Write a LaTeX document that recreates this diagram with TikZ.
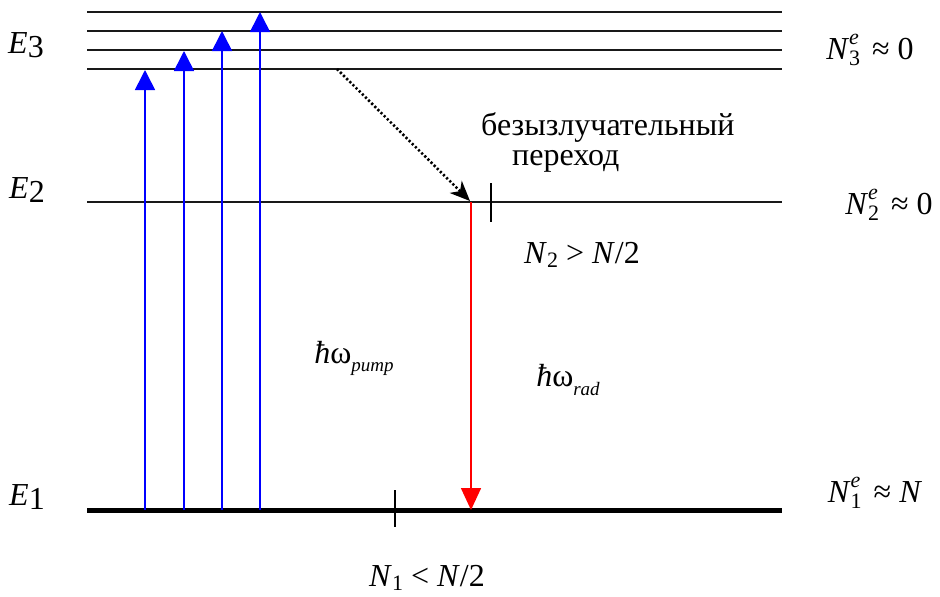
\documentclass[tikz,border=0pt]{standalone}
\usepackage{fontspec}
\setmainfont{Liberation Serif}
\usetikzlibrary{arrows.meta}
\newcommand{\smallfs}{\fontsize{22}{24}\selectfont}
\newcommand{\Nsub}[1]{\textit{N}\raisebox{-0.3ex}{\smallfs #1}}
\newcommand{\Nse}[1]{\textit{N}\makebox[0.42em][l]{\rlap{\raisebox{-0.4ex}{\smallfs #1}}\raisebox{1.0ex}{\smallfs\textit{e}}}}
\begin{document}
\begin{tikzpicture}[x=1pt,y=-1pt,
  lvl/.style={line width=1.5pt,draw=black!90},
  txt/.style={font=\fontsize{32}{36}\selectfont, inner sep=0pt},
  pump/.style={blue,line width=1.6pt,-{Triangle[width=20pt,length=20pt]}},
  rad/.style={red,line width=1.6pt,-{Triangle[width=20pt,length=22pt]}},
  tick/.style={line width=1.5pt}]
\useasboundingbox (0,0) rectangle (940,597);
% levels
\coordinate (a1) at (87,12);  \coordinate (b1) at (782,12);
\coordinate (a2) at (87,31);  \coordinate (b2) at (782,31);
\coordinate (a3) at (87,50);  \coordinate (b3) at (782,50);
\coordinate (a4) at (87,69);  \coordinate (b4) at (782,69);
\coordinate (e2l) at (87,202); \coordinate (e2r) at (782,202);
\coordinate (e1l) at (87,510); \coordinate (e1r) at (782,510);
\draw[lvl] (a1) -- (b1);
\draw[lvl] (a2) -- (b2);
\draw[lvl] (a3) -- (b3);
\draw[lvl] (a4) -- (b4);
\draw[lvl,line width=1.3pt] (e2l) -- (e2r);
\draw[line width=5pt] (e1l) -- (e1r);
% pump arrows
\coordinate (p1s) at (145,510); \coordinate (p1e) at (145,70);
\coordinate (p2s) at (184,510); \coordinate (p2e) at (184,51);
\coordinate (p3s) at (222,510); \coordinate (p3e) at (222,31);
\coordinate (p4s) at (260,510); \coordinate (p4e) at (260,12);
\draw[pump] (p1s) -- (p1e);
\draw[pump] (p2s) -- (p2e);
\draw[pump] (p3s) -- (p3e);
\draw[pump] (p4s) -- (p4e);
% radiative
\coordinate (rs) at (471,202); \coordinate (re) at (471,510);
\draw[rad] (rs) -- (re);
% nonradiative
\coordinate (ds) at (337,69); \coordinate (de) at (470,201);
\draw[line width=2.6pt,dash pattern=on 2.2pt off 2.2pt,-{Stealth[width=17pt,length=20pt,inset=6pt]}] (ds) -- (de);
% ticks
\coordinate (t2a) at (491,183); \coordinate (t2b) at (491,222);
\coordinate (t1a) at (395,490); \coordinate (t1b) at (395,527);
\draw[tick] (t2a) -- (t2b);
\draw[tick] (t1a) -- (t1b);
% labels
\node[txt] (E3) at (26,45) {\textit{E}\raisebox{-0.3ex}{3}};
\node[txt] (E2) at (27,190) {\textit{E}\raisebox{-0.3ex}{2}};
\node[txt] (E1) at (27,497) {\textit{E}\raisebox{-0.3ex}{1}};
\node[txt,font=\fontsize{32}{30}\selectfont,align=left,anchor=west] (nr) at (481,142) {безызлучательный\\\hspace*{31pt}переход};
\node[txt] (N2) at (582,255) {\Nsub{2} > \textit{N}/2};
\node[txt] (hp) at (354,358) {\textit{ħ}ω\raisebox{-0.55ex}{\fontsize{19}{22}\selectfont\textit{pump}}};
\node[txt] (hr) at (568,380) {\textit{ħ}ω\raisebox{-0.55ex}{\fontsize{19}{22}\selectfont\textit{rad}}};
\node[txt] (N1) at (427,578) {\Nsub{1} < \textit{N}/2};
\node[txt] (N3e) at (870,50) {\Nse{3}\hspace{0.3em}≈ 0};
\node[txt] (N2e) at (889,205) {\Nse{2}\hspace{0.3em}≈ 0};
\node[txt] (N1e) at (875,493) {\Nse{1}\hspace{0.3em}≈ \textit{N}};
\end{tikzpicture}
\end{document}
